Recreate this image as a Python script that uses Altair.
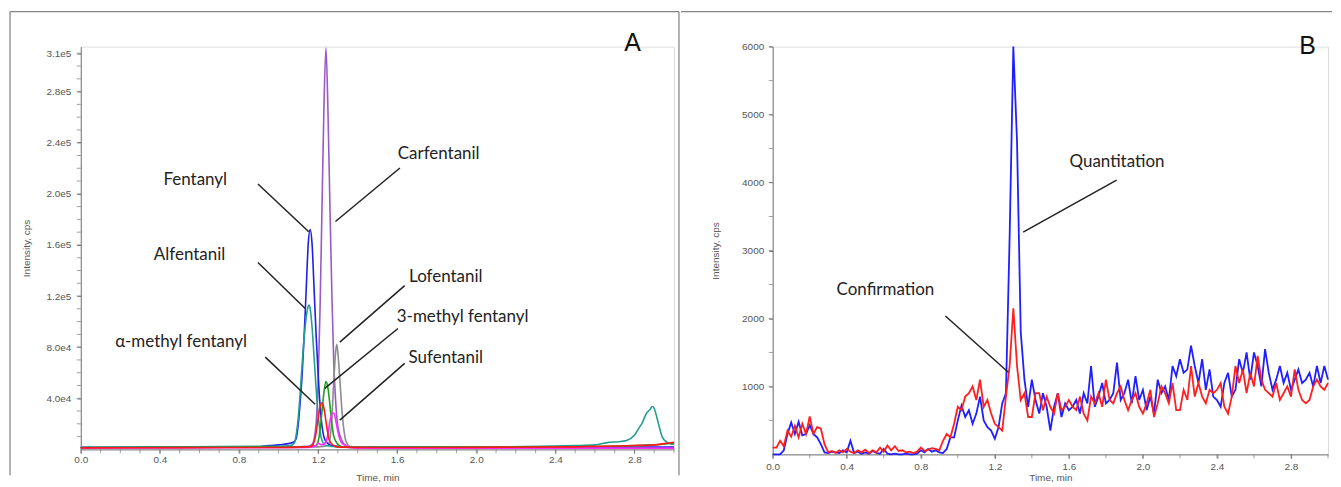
import altair as alt
import pandas as pd

# ---------------- Panel A : chromatogram traces (time in min, intensity in cps) ----------------
carf_t = [0.0, 1.0, 1.15, 1.17, 1.18, 1.19, 1.20, 1.21, 1.22, 1.23, 1.24, 1.25, 1.26, 1.27, 1.28, 1.29, 1.30, 1.32, 1.34, 1.36, 1.5, 3.0]
carf_v = [1500, 2000, 2500, 4000, 8000, 20000, 50000, 110000, 190000, 270000, 314000, 265000, 190000, 120000, 65000, 35000, 18000, 7000, 3000, 2000, 1500, 1200]

lofe_t = [0.0, 1.2, 1.25, 1.26, 1.27, 1.28, 1.29, 1.295, 1.30, 1.31, 1.32, 1.33, 1.34, 1.36, 1.4, 3.0]
lofe_v = [1500, 2000, 3000, 8000, 25000, 55000, 78000, 82000, 76000, 55000, 32000, 16000, 7000, 2500, 1800, 1500]

fent_t = [0.0, 0.5, 0.9, 0.95, 1.0, 1.05, 1.08, 1.09, 1.10, 1.11, 1.12, 1.13, 1.14, 1.15, 1.16, 1.17, 1.18, 1.19, 1.20, 1.21, 1.22, 1.24, 1.27, 1.35, 2.0, 3.0]
fent_v = [1500, 1600, 2000, 3000, 3500, 4500, 6000, 9000, 20000, 38000, 60000, 90000, 125000, 160000, 172000, 160000, 125000, 90000, 60000, 35000, 18000, 6000, 3000, 1800, 1500, 1800]

alfe_t = [0.0, 1.0, 1.06, 1.08, 1.09, 1.10, 1.11, 1.12, 1.13, 1.14, 1.15, 1.155, 1.16, 1.17, 1.18, 1.19, 1.20, 1.21, 1.22, 1.24,
          1.3, 2.0, 2.5, 2.6, 2.67, 2.72, 2.76, 2.80, 2.82, 2.84, 2.86, 2.88, 2.89, 2.90, 2.91, 2.92, 2.94, 2.96, 2.98, 3.0]
alfe_v = [1500, 2500, 3000, 5000, 12000, 25000, 45000, 68000, 88000, 103000, 112000, 113000, 110000, 95000, 72000, 48000, 28000, 14000, 7000, 3000,
          2000, 2000, 3000, 3500, 5500, 6000, 7000, 11000, 16000, 21000, 28000, 31500, 33500, 32000, 27000, 21000, 10000, 6000, 4500, 4000]

meth3_t = [0.0, 1.15, 1.19, 1.20, 1.21, 1.22, 1.23, 1.24, 1.25, 1.26, 1.27, 1.28, 1.30, 1.32, 1.4, 2.5, 2.9, 3.0]
meth3_v = [1500, 2000, 3000, 6000, 15000, 30000, 45000, 53000, 48000, 35000, 20000, 10000, 4000, 2000, 1500, 2000, 3500, 5000]

sufe_t = [0.0, 1.15, 1.19, 1.20, 1.21, 1.22, 1.24, 1.25, 1.26, 1.27, 1.28, 1.29, 1.30, 1.31, 1.32, 1.34, 1.36, 1.4, 3.0]
sufe_v = [1000, 1500, 3000, 5000, 4000, 3500, 6000, 12000, 22000, 28000, 28500, 22000, 14000, 8000, 5000, 3000, 1500, 1000, 1000]

amet_t = [0.0, 0.5, 1.0, 1.15, 1.17, 1.18, 1.19, 1.20, 1.21, 1.22, 1.23, 1.24, 1.25, 1.26, 1.28, 1.30, 1.5, 2.0, 2.5, 2.8, 2.9, 2.95, 3.0]
amet_v = [1200, 1400, 1500, 2000, 3000, 6000, 13000, 24000, 33000, 36500, 32000, 22000, 12000, 6000, 3000, 1800, 1500, 1600, 2000, 3000, 3500, 4500, 5500]

traces_A = [
    ("Carfentanil", carf_t, carf_v, "#9b59c6"),
    ("Lofentanil", lofe_t, lofe_v, "#8c8c8c"),
    ("Fentanyl", fent_t, fent_v, "#1f1fe8"),
    ("Alfentanil", alfe_t, alfe_v, "#229e96"),
    ("3-methyl fentanyl", meth3_t, meth3_v, "#1f9f1f"),
    ("Sufentanil", sufe_t, sufe_v, "#ff2cff"),
    ("α-methyl fentanyl", amet_t, amet_v, "#ff1a1a"),
]

# annotation labels (data coordinates) and leader lines
ann_A_label = ["Fentanyl", "Alfentanil", "α-methyl fentanyl", "Carfentanil", "Lofentanil", "3-methyl fentanyl", "Sufentanil"]
ann_A_t = [0.579, 0.550, 0.507, 1.810, 1.846, 1.931, 1.846]
ann_A_v = [210800, 152400, 83900, 231100, 134600, 103200, 71200]
lead_A_t1 = [0.896, 0.896, 0.933, 1.614, 1.638, 1.604, 1.638]
lead_A_v1 = [207700, 146300, 72200, 220200, 128200, 94600, 67300]
lead_A_t2 = [1.153, 1.135, 1.185, 1.288, 1.310, 1.234, 1.310]
lead_A_v2 = [170300, 110200, 35300, 178300, 83900, 47800, 22900]

# axis tick positions
yA_labels = [40000, 80000, 120000, 160000, 200000, 240000, 280000, 310000]
yA_minor = [i * 10000 for i in range(1, 32)]
xA_labels = [0.0, 0.4, 0.8, 1.2, 1.6, 2.0, 2.4, 2.8]
xA_minor = [round(i * 0.1, 1) for i in range(31)]

# ---------------- Panel B : quantitation / confirmation transitions ----------------
t_B = [round(i * 0.02, 2) for i in range(151)]
quant_B = [
    0, 0, 0, 60, 300, 470, 300, 480, 280, 300,
    430, 300, 250, 150, 30, 20, 40, 30, 20, 60,
    30, 200, 20, 40, 10, 30, 10, 50, 20, 10,
    80, 10, 0, 10, 0, 0, 10, 0, 0, 10,
    60, 30, 80, 40, 60, 30, 20, 80, 250, 250,
    500, 720, 550, 650, 450, 600, 850, 500, 400, 350,
    230, 400, 750, 900, 3200, 6000, 4600, 1800, 1100, 700,
    1100, 800, 600, 900, 700, 350, 700, 900, 550, 750,
    650, 700, 800, 600, 900, 750, 1300, 700, 850, 1050,
    750, 800, 900, 1350, 800, 900, 1100, 750, 1150, 800,
    950, 650, 850, 600, 1100, 900, 1000, 800, 1300, 1150,
    1400, 1200, 1250, 1600, 1300, 1050, 1400, 950, 1250, 850,
    800, 700, 1050, 1200, 850, 950, 1400, 1200, 1500, 1100,
    1500, 1300, 1000, 1550, 1200, 950, 1100, 1300, 1050, 1200,
    950, 1100, 1250, 1050, 1100, 1200, 1000, 1300, 1050, 1300,
    1100,
]
conf_B = [
    100, 100, 200, 120, 350, 260, 420, 250, 450, 300,
    560, 300, 400, 380, 150, 30, 50, 20, 60, 30,
    80, 40, 20, 60, 30, 70, 20, 60, 30, 100,
    40, 130, 60, 120, 50, 60, 30, 40, 20, 40,
    100, 50, 70, 90, 80, 60, 200, 300, 250, 450,
    700, 650, 850, 900, 1000, 800, 1100, 700, 800, 600,
    450, 400, 350, 850, 1300, 2150, 1300, 800, 900, 550,
    550, 900, 900, 650, 850, 700, 600, 900, 650, 700,
    800, 700, 650, 850, 600, 500, 850, 750, 900, 700,
    1100, 800, 750, 900, 1000, 800, 650, 800, 900, 700,
    600, 750, 950, 550, 750, 1000, 900, 750, 1050, 650,
    650, 950, 800, 1300, 850, 1050, 850, 750, 950, 900,
    950, 1050, 700, 600, 850, 1300, 1050, 1250, 900, 1200,
    1000, 1450, 1100, 950, 900, 850, 1050, 800, 900, 1000,
    850, 1250, 950, 800, 750, 800, 1000, 1100, 1000, 950,
    1050,
]
ann_B_label = ["Quantitation", "Confirmation"]
ann_B_t = [1.860, 0.609]
ann_B_v = [4298, 2412]
lead_B_t1 = [1.858, 0.933]
lead_B_v1 = [4035, 2036]
lead_B_t2 = [1.353, 1.273]
lead_B_v2 = [3270, 1209]

yB_labels = [1000, 2000, 3000, 4000, 5000, 6000]
yB_minor = [i * 500 for i in range(1, 13)]
xB_minor = [round(i * 0.2, 1) for i in range(16)]

panel_letters = ["A", "B"]

# ---------------- styling helpers ----------------
LABEL_FONT = "Liberation Sans"
ANN_FONT = "Lato"
ANN_SIZE = 17
AX = dict(labelFont=LABEL_FONT, labelFontSize=10, labelColor="#555", titleFont=LABEL_FONT,
          titleFontSize=10, titleColor="#555", titleFontWeight="normal", domainColor="#777",
          tickColor="#777", tickSize=4, grid=False, labelOverlap=False, labelFlush=False)
TICK_COLOR = "#777"

HA, HB = 404, 409
WA, WB = 595, 557


def frame(x_left, x_right, y_top, y_bottom, vertical_at):
    one = alt.Chart(pd.DataFrame({"k": [0]}))
    top = one.mark_rule(color="#666", strokeWidth=1).encode(
        x=alt.value(x_left), x2=alt.value(x_right), y=alt.value(y_top))
    vert = [one.mark_rule(color="#666", strokeWidth=1).encode(
        x=alt.value(xv), y=alt.value(y_top), y2=alt.value(y_bottom)) for xv in vertical_at]
    return [top] + vert


def minor_y(vals):
    return alt.Chart(pd.DataFrame({"v": vals})).mark_tick(
        color=TICK_COLOR, size=4, thickness=1, orient="horizontal").encode(y="v:Q", x=alt.value(-2))


def minor_x(vals, h):
    return alt.Chart(pd.DataFrame({"t": vals})).mark_tick(
        color=TICK_COLOR, size=4, thickness=1, orient="vertical").encode(x="t:Q", y=alt.value(h + 2))


# ---------------- Panel A chart ----------------
xA = alt.X("t:Q", scale=alt.Scale(domain=[0, 3.0], nice=False, zero=False),
           axis=alt.Axis(title="Time, min", values=xA_labels, format=".1f",
                         labelPadding=1, titlePadding=8, **AX))
yA = alt.Y("v:Q", scale=alt.Scale(domain=[0, 315200], nice=False),
           axis=alt.Axis(title="Intensity, cps", values=yA_labels,
                         labelExpr="replace(format(datum.value, '.1e'), '+', '')",
                         labelPadding=6, titlePadding=14, **AX))

layers_A = []
for name, ts, vs, col in traces_A:
    df = pd.DataFrame({"t": ts, "v": vs})
    layers_A.append(alt.Chart(df).mark_line(color=col, strokeWidth=1.6, interpolate="monotone")
                    .encode(x=xA, y=yA))

layers_A += [minor_y(yA_minor), minor_x(xA_minor, HA)]
lead_A = pd.DataFrame({"t": lead_A_t1, "v": lead_A_v1, "t2": lead_A_t2, "v2": lead_A_v2})
layers_A.append(alt.Chart(lead_A).mark_rule(color="#222", strokeWidth=1.5)
                .encode(x="t:Q", y="v:Q", x2="t2:Q", y2="v2:Q"))
lab_A = pd.DataFrame({"t": ann_A_t, "v": ann_A_v, "label": ann_A_label})
layers_A.append(alt.Chart(lab_A).mark_text(font=ANN_FONT, fontSize=ANN_SIZE, color="#222")
                .encode(x="t:Q", y="v:Q", text="label:N"))
letA = pd.DataFrame({"t": [2.79], "v": [318000], "label": [panel_letters[0]]})
layers_A.append(alt.Chart(letA).mark_text(font=LABEL_FONT, fontSize=25, color="#111")
                .encode(x="t:Q", y="v:Q", text="label:N"))
layers_A += frame(-71, 600, -35, 430, [-71, 600])

chartA = alt.layer(*layers_A).properties(width=WA, height=HA)

# ---------------- Panel B chart ----------------
scaleBx = alt.Scale(domain=[0, 3.0], nice=False, zero=False)
axisBx = alt.Axis(title="Time, min", values=xA_labels, format=".1f",
                  labelPadding=3, titlePadding=1, **AX)
scaleBy = alt.Scale(domain=[0, 6000], nice=False)
axisBy = alt.Axis(title="Intensity, cps", values=yB_labels, format="d",
                  labelPadding=5, titlePadding=21, **AX)

dfB = pd.DataFrame({"t": t_B, "quant": quant_B, "conf": conf_B})
lineQ = alt.Chart(dfB).mark_line(color="#1f1fff", strokeWidth=1.8).encode(
    x=alt.X("t:Q", scale=scaleBx, axis=axisBx), y=alt.Y("quant:Q", scale=scaleBy, axis=axisBy))
lineC = alt.Chart(dfB).mark_line(color="#ff1f1f", strokeWidth=1.8).encode(
    x=alt.X("t:Q", scale=scaleBx, axis=axisBx), y=alt.Y("conf:Q", scale=scaleBy, axis=axisBy))
lead_B = pd.DataFrame({"t": lead_B_t1, "v": lead_B_v1, "t2": lead_B_t2, "v2": lead_B_v2})
ruleB = alt.Chart(lead_B).mark_rule(color="#222", strokeWidth=1.5).encode(x="t:Q", y="v:Q", x2="t2:Q", y2="v2:Q")
lab_B = pd.DataFrame({"t": ann_B_t, "v": ann_B_v, "label": ann_B_label})
textB = alt.Chart(lab_B).mark_text(font=ANN_FONT, fontSize=ANN_SIZE, color="#222").encode(x="t:Q", y="v:Q", text="label:N")
letB = pd.DataFrame({"t": [2.89], "v": [6009], "label": [panel_letters[1]]})
letterB = alt.Chart(letB).mark_text(font=LABEL_FONT, fontSize=25, color="#111").encode(x="t:Q", y="v:Q", text="label:N")

chartB = alt.layer(lineQ, lineC, minor_y(yB_minor), minor_x(xB_minor, HB), ruleB, textB, letterB,
                   *frame(-92, 561, -35, 425, [])).properties(width=WB, height=HB)

chart = alt.hconcat(chartA, chartB, spacing=0).properties(
    padding={"left": 1, "top": 2, "right": 0, "bottom": 0}
).configure_view(stroke=None).configure(background="white")

chart.save("out.html", embed_options={"renderer": "svg", "actions": False})
